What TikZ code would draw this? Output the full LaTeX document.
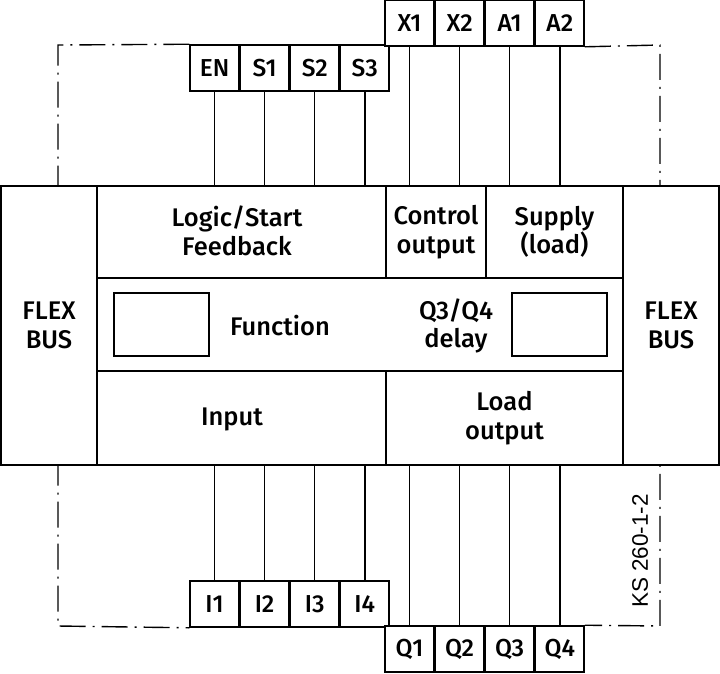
\documentclass[tikz,border=0pt]{standalone}
\usepackage{fontspec}
\setmainfont{Fira Sans}[UprightFont=* Medium]
\newfontfamily\kslabel{Liberation Sans}
\usepackage{tikz}
\usetikzlibrary{calc, positioning}
\tikzset{
    cell/.style={draw, line width=1.6pt, fill=white, inner sep=0pt, align=center,
        font=\fontsize{25.5}{28.5}\selectfont},
    term/.style={draw, line width=1.6pt, fill=white, inner sep=0pt,
        minimum width=48.5pt, minimum height=46pt, font=\fontsize{24.5}{28}\selectfont},
    wire/.style={line width=1.4pt},
    frame/.style={line width=1.4pt, dash pattern=on 26pt off 7pt on 2pt off 7pt}
}

\begin{document}
\begin{tikzpicture}[x=1pt, y=-1pt]
            \useasboundingbox (0,0) rectangle (720,673);
            % terminals
            \node[term] (en) at (214.5,68) {EN};
            \node[term, right=0pt of en] (s1) {S1};
            \node[term, right=0pt of s1] (s2) {S2};
            \node[term, right=0pt of s2] (s3) {S3};
            \node[term] (x1) at (409.5,23) {X1};
            \node[term, right=0pt of x1] (x2) {X2};
            \node[term, right=0pt of x2] (a1) {A1};
            \node[term, right=0pt of a1] (a2) {A2};
            \node[term] (i1) at (214.5,604) {I1};
            \node[term, right=0pt of i1] (i2) {I2};
            \node[term, right=0pt of i2] (i3) {I3};
            \node[term, right=0pt of i3] (i4) {I4};
            \node[term] (q1) at (409.5,649) {Q1};
            \node[term, right=0pt of q1] (q2) {Q2};
            \node[term, right=0pt of q2] (q3) {Q3};
            \node[term, right=0pt of q3] (q4) {Q4};
            % dash-dot frame
            \coordinate (tl) at (58,45);
            \coordinate (bl) at (58,626);
            \coordinate (tr) at (660,45);
            \coordinate (br) at (660,626);
            \draw[frame] (en.north west) to (tl) to (bl) to (i1.south west);
            \draw[frame] (a2.south east) to (tr) to (br) to (q4.north east);
            % module
            \node[cell, minimum width=96pt, minimum height=279pt] (busL) at (49,325.5) {FLEX\\BUS};
            \node[cell, minimum width=96pt, minimum height=279pt] (busR) at (671,325.5) {FLEX\\BUS};
            \node[cell, minimum width=289pt, minimum height=92pt] (logic) at (241.5,232) {};
            \node[cell, minimum width=100pt, minimum height=92pt] (ctrl) at (436,232) {Control\\output};
            \node[cell, minimum width=137pt, minimum height=92pt] (supply) at (554.5,232) {Supply\\(load)};
            \node[cell, minimum width=526pt, minimum height=93pt] (func) at (360,324.5) {};
            \node[cell, minimum width=289pt, minimum height=94pt] (input) at (241.5,418) {};
            \node[cell, minimum width=237pt, minimum height=94pt] (load) at (504.5,418) {Load\\output};
            \node[font=\fontsize{25.5}{28.5}\selectfont, align=center] (logictxt) at (237,231) {Logic/Start\\Feedback};
            \node[font=\fontsize{25.5}{28.5}\selectfont] (inputtxt) at (232,419) {Input};
            \node[draw, line width=1.6pt, minimum width=95pt, minimum height=63pt] (dispL) at (161.5,324.5) {};
            \node[draw, line width=1.6pt, minimum width=95pt, minimum height=63pt] (dispR) at (559.5,324.5) {};
            \node[font=\fontsize{25.5}{28.5}\selectfont] (functxt) at (280,326) {Function};
            \node[font=\fontsize{25.5}{28.5}\selectfont, align=center] (delaytxt) at (456,326) {Q3/Q4\\delay};
            % wires
            \foreach \t in {en, s1, s2, s3}
                \draw[wire] (\t.south) to (\t.south |- logic.north);
            \foreach \t in {x1, x2}
                \draw[wire] (\t.south) to (\t.south |- ctrl.north);
            \foreach \t in {a1, a2}
                \draw[wire] (\t.south) to (\t.south |- supply.north);
            \foreach \t in {i1, i2, i3, i4}
                \draw[wire] (\t.north) to (\t.north |- input.south);
            \foreach \t in {q1, q2, q3, q4}
                \draw[wire] (\t.north) to (\t.north |- load.south);
            \node[rotate=90, font=\kslabel\fontsize{22.5}{26}\selectfont] (ks) at (640,551) {KS 260-1-2};
        \end{tikzpicture}
\end{document}
